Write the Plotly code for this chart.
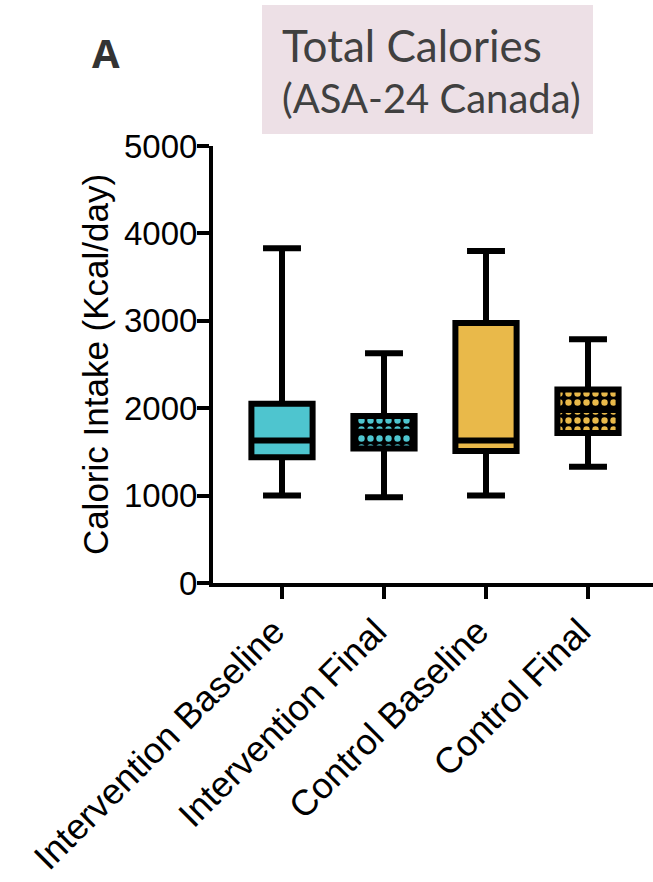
import plotly.graph_objects as go

# Summary statistics for daily caloric intake (kcal/day)
categories = ["Intervention Baseline", "Intervention Final", "Control Baseline", "Control Final"]
lower_whisker = [1000, 980, 1000, 1330]
q1_values = [1440, 1540, 1510, 1715]
medians = [1630, 1730, 1630, 1980]
q3_values = [2050, 1910, 2975, 2215]
upper_whisker = [3830, 2630, 3800, 2790]
fill_colors = ["#4EC5CF", "#4EC5CF", "#E9B94A", "#E9B94A"]
patterned = [False, True, False, True]
y_ticks = [0, 1000, 2000, 3000, 4000, 5000]

BOX_W = 0.6

fig = go.Figure()

# Checkered fill for the "Final" groups: a bar spanning Q1..Q3
for i, cat in enumerate(categories):
    if patterned[i]:
        fig.add_trace(go.Bar(
            x=[cat], y=[q3_values[i] - q1_values[i]], base=[q1_values[i]],
            width=BOX_W,
            marker=dict(
                color="black",
                line=dict(width=0),
                pattern=dict(shape=".", fgcolor=fill_colors[i], bgcolor="black",
                             size=9, solidity=0.4, fillmode="replace"),
            ),
            showlegend=False, hoverinfo="skip",
        ))

# Box-and-whisker outlines
for i, cat in enumerate(categories):
    fig.add_trace(go.Box(
        x=[cat],
        q1=[q1_values[i]], median=[medians[i]], q3=[q3_values[i]],
        lowerfence=[lower_whisker[i]], upperfence=[upper_whisker[i]],
        fillcolor="rgba(0,0,0,0)" if patterned[i] else fill_colors[i],
        line=dict(color="black", width=6),
        whiskerwidth=0.62,
        width=BOX_W,
        showlegend=False,
        boxpoints=False,
    ))

# Plot area: x 213..653 px, y 146..583 px
x_left = -(282 - 213) / 102
x_right = x_left + 440 / 102

fig.update_layout(
    width=653, height=882,
    margin=dict(l=213, r=0, t=146, b=299, pad=0),
    paper_bgcolor="white", plot_bgcolor="white",
    boxmode="overlay", barmode="overlay",
    font=dict(family="Liberation Sans, Arial, sans-serif", color="black"),
    xaxis=dict(
        type="category", categoryorder="array", categoryarray=categories,
        range=[x_left, x_right],
        showline=True, linewidth=4, linecolor="black",
        ticks="outside", ticklen=12, tickwidth=4, tickcolor="black",
        tickangle=-45, tickfont=dict(size=36),
        ticklabelshift=-8, ticklabelstandoff=-3,
        showgrid=False, zeroline=False, automargin=False,
    ),
    yaxis=dict(
        range=[0, 5000], tickvals=y_ticks,
        showline=True, linewidth=4, linecolor="black",
        ticks="outside", ticklen=12, tickwidth=4, tickcolor="black",
        tickfont=dict(size=33), ticklabelstandoff=-7,
        title=dict(text="Caloric Intake (Kcal/day)", font=dict(size=35), standoff=6),
        showgrid=False, zeroline=False, automargin=False,
    ),
)

# Title panel
fig.add_shape(type="rect", xref="paper", yref="paper",
              x0=(262 - 213) / 440, x1=(593 - 213) / 440,
              y0=(583 - 134) / 437, y1=(583 - 5) / 437,
              fillcolor="#EDE0E6", line=dict(width=0), layer="below")

fig.add_annotation(text="Total Calories", xref="paper", yref="paper",
                   x=(280 - 213) / 440, y=(583 - 45) / 437,
                   xanchor="left", yanchor="middle", showarrow=False,
                   font=dict(family="Lato, Open Sans, sans-serif", size=44, color="#404040"))
fig.add_annotation(text="(ASA-24 Canada)", xref="paper", yref="paper",
                   x=(280 - 213) / 440, y=(583 - 98) / 437,
                   xanchor="left", yanchor="middle", showarrow=False,
                   font=dict(family="Lato, Open Sans, sans-serif", size=40, color="#404040"))
fig.add_annotation(text="<b>A</b>", xref="paper", yref="paper",
                   x=(106 - 213) / 440, y=(583 - 52) / 437,
                   xanchor="center", yanchor="middle", showarrow=False,
                   font=dict(family="Open Sans, sans-serif", size=40, color="#333333"))

fig.write_html("out.html")
